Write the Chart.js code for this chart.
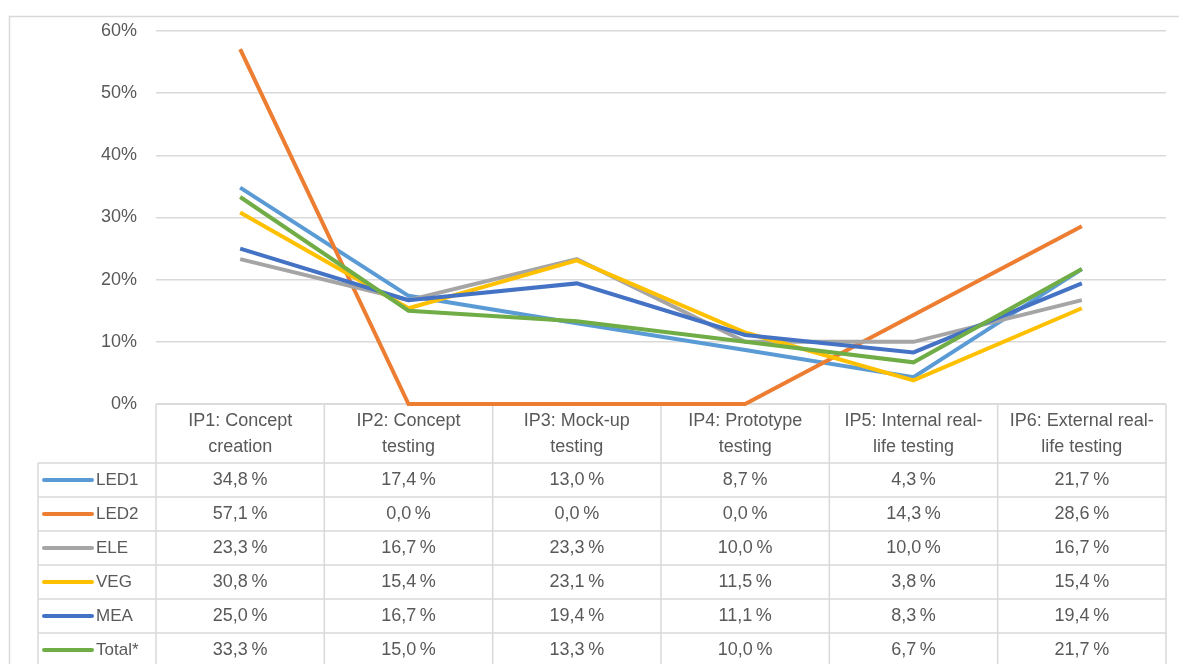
<!DOCTYPE html>
<html>
<head>
<meta charset="utf-8">
<script src="https://cdn.jsdelivr.net/npm/chart.js@4/dist/chart.umd.min.js"></script>
<style>
  html, body { margin: 0; padding: 0; background: #fff; }
  #wrap { width: 1179px; height: 664px; }
</style>
</head>
<body>
<div id="wrap"><canvas id="ip-chart" width="1179" height="664"></canvas></div>
<script>
// Kategorien (zweizeilig wie in der Datentabelle)
var categories = [
    ['IP1: Concept', 'creation'],
    ['IP2: Concept', 'testing'],
    ['IP3: Mock-up', 'testing'],
    ['IP4: Prototype', 'testing'],
    ['IP5: Internal real-', 'life testing'],
    ['IP6: External real-', 'life testing']
];

var seriesNames = ['LED1', 'LED2', 'ELE', 'VEG', 'MEA', 'Total*'];
var seriesColors = ['#5B9BD5', '#ED7D31', '#A5A5A5', '#FFC000', '#4472C4', '#70AD47'];

// Anteile in %
var led1  = [34.8, 17.4, 13.0,  8.7,  4.3, 21.7];
var led2  = [57.1,  0.0,  0.0,  0.0, 14.3, 28.6];
var ele   = [23.3, 16.7, 23.3, 10.0, 10.0, 16.7];
var veg   = [30.8, 15.4, 23.1, 11.5,  3.8, 15.4];
var mea   = [25.0, 16.7, 19.4, 11.1,  8.3, 19.4];
var total = [33.3, 15.0, 13.3, 10.0,  6.7, 21.7];

var yMin = 0, yMax = 60, yStep = 10;

var seriesValues = [led1, led2, ele, veg, mea, total];

var FONT = 'Liberation Sans';
var TXT = '#595959';
var GRID = '#d9d9d9';

function fmtPct(v) { return v.toFixed(1).replace('.', ',') + '\u2009%'; }

// Datentabelle unter der Zeichenfläche + Rahmen
var dataTablePlugin = {
    id: 'dataTable',
    beforeDatasetsDraw: function(chart) {
        var ctx = chart.ctx;
        var xs = chart.scales.x;
        var area = chart.chartArea;
        var step = (area.right - area.left) / categories.length;
        var headTop = area.bottom;
        var headH = 59;
        var rowH = 34;
        var legendLeft = 38;
        var bodyTop = headTop + headH;

        ctx.save();
        // Rahmen
        ctx.strokeStyle = GRID;
        ctx.lineWidth = 1.5;
        ctx.beginPath();
        ctx.moveTo(9.5, chart.height);
        ctx.lineTo(9.5, 16.5);
        ctx.lineTo(chart.width, 16.5);
        ctx.stroke();

        // Kopfzeile
        ctx.beginPath();
        ctx.moveTo(area.left, headTop);
        ctx.lineTo(area.right, headTop);
        for (var i = 0; i <= categories.length; i++) {
            var bx = area.left + i * step;
            ctx.moveTo(bx, headTop);
            ctx.lineTo(bx, chart.height);
        }
        // Zeilen
        for (var r = 0; r <= seriesNames.length; r++) {
            var ry = bodyTop + r * rowH;
            ctx.moveTo(legendLeft, ry);
            ctx.lineTo(area.right, ry);
        }
        ctx.moveTo(legendLeft, bodyTop);
        ctx.lineTo(legendLeft, chart.height);
        ctx.stroke();

        ctx.fillStyle = TXT;
        ctx.font = '18px "' + FONT + '"';
        ctx.textAlign = 'center';
        ctx.textBaseline = 'middle';
        categories.forEach(function(lines, i) {
            var cx = xs.getPixelForValue(i);
            ctx.fillText(lines[0], cx, headTop + 17);
            ctx.fillText(lines[1], cx, headTop + 43);
        });

        seriesNames.forEach(function(name, r) {
            var cy = bodyTop + r * rowH + 17;
            ctx.strokeStyle = seriesColors[r];
            ctx.lineWidth = 4;
            ctx.lineCap = 'round';
            ctx.beginPath();
            ctx.moveTo(44, cy);
            ctx.lineTo(92, cy);
            ctx.stroke();
            ctx.textAlign = 'left';
            ctx.font = '17px "' + FONT + '"';
            ctx.fillText(name, 96, cy);
            ctx.textAlign = 'center';
            ctx.font = '18px "' + FONT + '"';
            seriesValues[r].forEach(function(v, i) {
                ctx.fillText(fmtPct(v), xs.getPixelForValue(i), cy);
            });
        });
        ctx.restore();
    }
};

var datasets = seriesNames.map(function(name, i) {
    return {
        label: name,
        data: seriesValues[i],
        borderColor: seriesColors[i],
        backgroundColor: seriesColors[i],
        borderWidth: 4,
        pointRadius: 0,
        tension: 0,
        clip: 6,
        order: seriesNames.length - i
    };
});

new Chart(document.getElementById('ip-chart'), {
    type: 'line',
    data: { labels: categories.map(function(c) { return c.join(' '); }), datasets: datasets },
    plugins: [dataTablePlugin],
    options: {
        responsive: false,
        animation: false,
        layout: { padding: { top: 31, right: 13, bottom: 0, left: 0 } },
        plugins: { legend: { display: false }, tooltip: { enabled: false } },
        scales: {
            x: {
                offset: true,
                grid: { display: false },
                border: { display: false },
                ticks: { display: false },
                afterFit: function(s) { s.height = 260; }
            },
            y: {
                min: yMin, max: yMax,
                grid: { color: GRID, lineWidth: 1.5, drawTicks: false },
                border: { display: false },
                ticks: {
                    stepSize: yStep,
                    padding: 19,
                    color: TXT,
                    font: { family: FONT, size: 18 },
                    callback: function(v) { return v + '%'; }
                },
                afterFit: function(s) { s.width = 156; }
            }
        }
    }
});
</script>
</body>
</html>
